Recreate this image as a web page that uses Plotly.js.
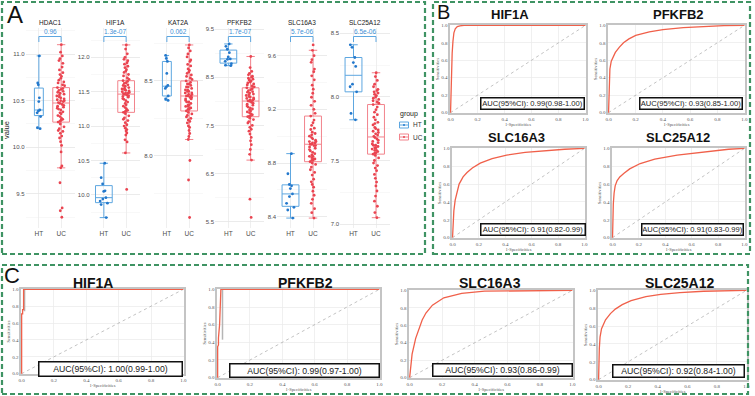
<!DOCTYPE html>
<html>
<head>
<meta charset="utf-8">
<script src="https://cdn.plot.ly/plotly-3.0.1.min.js"></script>
<style>
  html, body { margin: 0; padding: 0; background: #ffffff; }
  #chart { width: 755px; height: 396px; }
</style>
</head>
<body>
<div id="chart"></div>
<script>
// ---------------- Panel A: expression by group ----------------
const genes = ['HDAC1', 'HIF1A', 'KAT2A', 'PFKFB2', 'SLC16A3', 'SLC25A12'];
const groups = ['HT', 'UC'];
const pLabels = ['0.96', '1.3e-07', '0.062', '1.7e-07', '5.7e-06', '6.5e-06'];

const htHDAC1 = [10.98, 10.69, 10.67, 10.53, 10.49, 10.40, 10.39, 10.37, 10.33, 10.21, 10.20];
const ucHDAC1 = [11.10, 11.02, 10.98, 10.95, 10.93, 10.90, 10.86, 10.83, 10.80, 10.78, 10.76, 10.74, 10.72, 10.70, 10.69, 10.67, 10.66,
  10.64, 10.63, 10.62, 10.61, 10.60, 10.59, 10.58, 10.57, 10.56, 10.55, 10.54, 10.53, 10.52, 10.51, 10.50, 10.50, 10.49, 10.48,
  10.47, 10.46, 10.45, 10.44, 10.43, 10.42, 10.41, 10.40, 10.38, 10.37, 10.36, 10.34, 10.33, 10.31, 10.30, 10.29, 10.28, 10.27,
  10.25, 10.22, 10.20, 10.18, 10.17, 10.15, 10.12, 10.10, 10.06, 10.02, 9.95, 9.80, 9.78, 9.62, 9.35, 9.32, 9.25];

const htHIF1A = [10.46, 10.25, 10.16, 10.06, 10.05, 9.96, 9.94, 9.91, 9.88, 9.86, 9.67];
const ucHIF1A = [12.18, 12.12, 12.05, 12.00, 11.97, 11.95, 11.92, 11.90, 11.87, 11.85, 11.82, 11.80, 11.78, 11.75, 11.73, 11.70, 11.68,
  11.66, 11.65, 11.63, 11.62, 11.60, 11.59, 11.58, 11.56, 11.55, 11.54, 11.53, 11.52, 11.51, 11.50, 11.49, 11.48, 11.48, 11.47,
  11.46, 11.45, 11.44, 11.43, 11.42, 11.40, 11.39, 11.37, 11.35, 11.33, 11.31, 11.29, 11.27, 11.25, 11.23, 11.22, 11.21, 11.20,
  11.18, 11.15, 11.12, 11.10, 11.08, 11.05, 11.02, 11.00, 10.97, 10.95, 10.93, 10.90, 10.87, 10.80, 10.77, 10.61, 10.08];

const htKAT2A = [8.67, 8.65, 8.63, 8.55, 8.47, 8.46, 8.45, 8.40, 8.38, 8.37];
const ucKAT2A = [8.74, 8.72, 8.70, 8.68, 8.66, 8.64, 8.63, 8.61, 8.60, 8.58, 8.57, 8.56, 8.55, 8.54, 8.53, 8.52, 8.51,
  8.50, 8.49, 8.48, 8.48, 8.47, 8.46, 8.46, 8.45, 8.44, 8.44, 8.43, 8.43, 8.42, 8.42, 8.41, 8.41, 8.40, 8.40,
  8.40, 8.39, 8.39, 8.38, 8.38, 8.37, 8.36, 8.36, 8.35, 8.34, 8.34, 8.33, 8.33, 8.32, 8.32, 8.31, 8.31, 8.30,
  8.29, 8.28, 8.27, 8.26, 8.25, 8.24, 8.23, 8.22, 8.20, 8.19, 8.17, 8.15, 8.13, 8.11, 7.97, 7.84, 7.59];

const htPFKFB2 = [9.19, 9.14, 9.08, 9.01, 8.92, 8.88, 8.87, 8.83, 8.78, 8.75, 8.74];
const ucPFKFB2 = [8.93, 8.70, 8.62, 8.58, 8.55, 8.52, 8.50, 8.48, 8.46, 8.44, 8.42, 8.40, 8.38, 8.36, 8.34, 8.32, 8.30,
  8.28, 8.26, 8.24, 8.22, 8.20, 8.19, 8.17, 8.15, 8.14, 8.12, 8.10, 8.09, 8.07, 8.06, 8.05, 8.03, 8.02, 8.01,
  8.00, 7.98, 7.96, 7.94, 7.92, 7.90, 7.88, 7.86, 7.84, 7.82, 7.80, 7.78, 7.76, 7.74, 7.72, 7.70, 7.69, 7.68,
  7.65, 7.62, 7.58, 7.55, 7.50, 7.46, 7.42, 7.38, 7.32, 7.25, 7.18, 7.10, 7.00, 6.90, 6.78, 5.97, 5.59];

const htSLC16A3 = [8.87, 8.72, 8.64, 8.63, 8.61, 8.57, 8.55, 8.50, 8.47, 8.45, 8.39];
const ucSLC16A3 = [9.68, 9.64, 9.60, 9.57, 9.55, 9.50, 9.48, 9.45, 9.42, 9.38, 9.35, 9.32, 9.29, 9.26, 9.23, 9.20, 9.17,
  9.15, 9.12, 9.10, 9.08, 9.06, 9.05, 9.03, 9.02, 9.01, 9.00, 8.99, 8.98, 8.97, 8.96, 8.96, 8.95, 8.95, 8.94,
  8.94, 8.93, 8.93, 8.92, 8.91, 8.90, 8.89, 8.88, 8.87, 8.86, 8.85, 8.85, 8.84, 8.83, 8.83, 8.82, 8.82, 8.81,
  8.80, 8.79, 8.77, 8.75, 8.73, 8.71, 8.68, 8.66, 8.64, 8.62, 8.59, 8.56, 8.53, 8.50, 8.46, 8.43, 8.39];

const htSLC25A12 = [8.41, 8.39, 8.31, 8.27, 8.24, 8.10, 8.08, 8.04, 7.87, 7.82];
const ucSLC25A12 = [8.19, 8.16, 8.13, 8.10, 8.08, 8.06, 8.05, 8.04, 8.03, 8.02, 8.01, 8.00, 7.99, 7.98, 7.97, 7.96, 7.95,
  7.94, 7.92, 7.90, 7.88, 7.86, 7.84, 7.82, 7.80, 7.79, 7.78, 7.76, 7.75, 7.74, 7.73, 7.72, 7.71, 7.70, 7.69,
  7.68, 7.67, 7.66, 7.65, 7.64, 7.63, 7.62, 7.62, 7.61, 7.60, 7.60, 7.59, 7.58, 7.58, 7.57, 7.56, 7.56, 7.55,
  7.54, 7.52, 7.50, 7.48, 7.46, 7.44, 7.42, 7.39, 7.36, 7.33, 7.30, 7.26, 7.22, 7.18, 7.14, 7.09, 7.05];

const htValues = [htHDAC1, htHIF1A, htKAT2A, htPFKFB2, htSLC16A3, htSLC25A12];
const ucValues = [ucHDAC1, ucHIF1A, ucKAT2A, ucPFKFB2, ucSLC16A3, ucSLC25A12];

// ---------------- Panels B and C: ROC curves ----------------
const rocGenes = ['HIF1A', 'PFKFB2', 'SLC16A3', 'SLC25A12'];
const diagonal = [0, 1];
const rocTicks = [0, 0.2, 0.4, 0.6, 0.8, 1.0];

// panel B (training set)
const aucB = ['0.99', '0.93', '0.91', '0.91'];
const ciLowB = ['0.98', '0.85', '0.82', '0.83'];
const ciHighB = ['1.00', '1.00', '0.99', '0.99'];
const fprB_HIF1A = [0, 0.003, 0.007, 0.012, 0.018, 0.025, 0.035, 0.05, 0.07, 0.1, 0.3, 0.6, 1];
const tprB_HIF1A = [0, 0.25, 0.5, 0.68, 0.82, 0.915, 0.96, 0.985, 0.995, 1.0, 1.0, 1.0, 1.0];
const fprB_PFKFB2 = [0, 0.002, 0.005, 0.01, 0.02, 0.035, 0.05, 0.08, 0.11, 0.15, 0.2, 0.3, 0.4, 0.55, 0.7, 0.85, 1];
const tprB_PFKFB2 = [0, 0.2, 0.38, 0.5, 0.59, 0.65, 0.69, 0.75, 0.8, 0.845, 0.885, 0.925, 0.95, 0.975, 0.99, 0.997, 1];
const fprB_SLC16A3 = [0, 0.003, 0.01, 0.02, 0.035, 0.05, 0.08, 0.11, 0.15, 0.21, 0.3, 0.41, 0.55, 0.69, 0.85, 1];
const tprB_SLC16A3 = [0, 0.15, 0.3, 0.42, 0.53, 0.6, 0.68, 0.73, 0.78, 0.835, 0.885, 0.925, 0.955, 0.975, 0.99, 1];
const fprB_SLC25A12 = [0, 0.002, 0.006, 0.012, 0.02, 0.035, 0.055, 0.087, 0.13, 0.21, 0.32, 0.49, 0.6, 0.74, 0.88, 1];
const tprB_SLC25A12 = [0, 0.2, 0.38, 0.5, 0.58, 0.64, 0.68, 0.72, 0.77, 0.83, 0.88, 0.925, 0.945, 0.97, 0.99, 1];

// panel C (validation set)
const aucC = ['1.00', '0.99', '0.93', '0.92'];
const ciLowC = ['0.99', '0.97', '0.86', '0.84'];
const ciHighC = ['1.00', '1.00', '0.99', '1.00'];
const fprC_HIF1A = [0, 0, 0.006, 0.006, 0.012, 0.012, 1];
const tprC_HIF1A = [0, 0.71, 0.71, 0.76, 0.76, 1, 1];
const fprC_PFKFB2 = [0, 0, 0.005, 0.005, 0.012, 0.02, 1];
const tprC_PFKFB2 = [0, 0.35, 0.37, 0.45, 0.6, 1, 1];
const fprC_SLC16A3 = [0, 0.005, 0.015, 0.037, 0.077, 0.1, 0.14, 0.21, 0.32, 0.46, 0.7, 1];
const tprC_SLC16A3 = [0, 0.12, 0.27, 0.45, 0.66, 0.74, 0.83, 0.915, 0.965, 0.99, 0.998, 1];
const fprC_SLC25A12 = [0, 0.002, 0.005, 0.01, 0.02, 0.047, 0.08, 0.113, 0.16, 0.22, 0.32, 0.42, 0.55, 0.71, 0.85, 1];
const tprC_SLC25A12 = [0, 0.2, 0.35, 0.48, 0.57, 0.67, 0.74, 0.79, 0.84, 0.885, 0.93, 0.955, 0.975, 0.99, 0.997, 1];
// confidence band edges of the two step curves
const ciFprC_HIF1A = [0.018, 0.018];
const ciTprC_HIF1A = [0.74, 1];
const ciFprC_PFKFB2 = [0.03, 0.03];
const ciTprC_PFKFB2 = [0.43, 1];

const rocB = [[fprB_HIF1A, tprB_HIF1A], [fprB_PFKFB2, tprB_PFKFB2], [fprB_SLC16A3, tprB_SLC16A3], [fprB_SLC25A12, tprB_SLC25A12]];
const rocC = [[fprC_HIF1A, tprC_HIF1A], [fprC_PFKFB2, tprC_PFKFB2], [fprC_SLC16A3, tprC_SLC16A3], [fprC_SLC25A12, tprC_SLC25A12]];
const ciC = [[ciFprC_HIF1A, ciTprC_HIF1A], [ciFprC_PFKFB2, ciTprC_PFKFB2], null, null];

// ---------------- geometry (pixels in a 755 x 396 canvas) ----------------
const W = 755, H = 396;
const fx = v => v / W;
const fy = v => 1 - v / H;

const SANS = 'Arial, Liberation Sans, sans-serif';
const SERIF = 'Liberation Serif, Times New Roman, serif';
const HT_PT = '#2378cc', HT_LINE = '#5ea7e0';
const UC_PT = '#ea4450', UC_LINE = '#f2838c';
const ROC_RED = '#f0604a';
const FRAME_GREEN = '#3f9363';

const aColumns = [[25.5, 74.5], [90.5, 139.5], [153.5, 202.5], [215, 264], [277, 326.5], [340, 389.5]];
const aTop = 28, aBottom = 228;
const aRanges = [[9.135, 11.279], [9.519, 12.426], [7.52, 8.853], [5.371, 9.521], [8.316, 9.806], [6.969, 8.542]];
const aTick0 = [9.5, 10, 8, 5.5, 8.4, 7];
const aDtick = [0.5, 0.5, 0.5, 1, 0.4, 0.5];
const htBoxWidth = [0.4, 0.75, 0.4, 0.75, 0.75, 0.75];

const bBoxes = [[450, 586, 25, 113], [608, 745, 25, 113], [452, 585, 148, 238], [612, 745, 148, 238]];
const bTitles = [[510, 14], [678, 14], [516, 137], [678, 137]];
const bAuc = [[480, 585, 97, 110], [639, 743, 97, 110], [480, 586, 223, 236], [641, 744, 223, 236]];
const cBoxes = [[21, 184, 289, 374], [217, 380, 289, 378], [409, 573, 290, 378], [598, 747, 290, 380]];
const cTitles = [[93, 283], [305, 283], [490, 283], [679, 283]];
const cAuc = [[38, 183, 361, 377], [229, 380, 363, 378], [432, 573, 363, 377], [612, 745, 364, 378]];

const data = [];
const layout = {
  width: W, height: H,
  margin: { l: 0, r: 0, t: 0, b: 0, pad: 0 },
  paper_bgcolor: '#ffffff', plot_bgcolor: '#ffffff',
  showlegend: false,
  shapes: [], annotations: []
};

const ax = n => (n === 1 ? '' : String(n));

// ---- panel A subplots ----
genes.forEach((g, i) => {
  const n = i + 1, s = ax(n);
  [[htValues[i], 'HT', HT_PT, HT_LINE, htBoxWidth[i]], [ucValues[i], 'UC', UC_PT, UC_LINE, 0.75]].forEach(([vals, grp, pc, lc, w]) => {
    data.push({
      type: 'box', y: vals, name: grp, legendgroup: grp,
      xaxis: 'x' + s, yaxis: 'y' + s,
      boxpoints: 'all', jitter: 0.55, pointpos: 0, width: w,
      marker: { size: 2.8, color: pc, opacity: 1 },
      line: { color: lc, width: 1 },
      fillcolor: 'rgba(255,255,255,0)',
      hoverinfo: 'skip'
    });
  });
  layout['xaxis' + s] = {
    domain: [fx(aColumns[i][0]), fx(aColumns[i][1])], anchor: 'y' + s,
    type: 'category', categoryorder: 'array', categoryarray: groups,
    range: [-0.6, 1.6], showgrid: true, gridcolor: '#ebebeb', gridwidth: 0.8,
    zeroline: false, showline: false, ticks: '',
    tickfont: { family: SANS, size: 6.5, color: '#4d4d4d' }
  };
  layout['yaxis' + s] = {
    domain: [fy(aBottom), fy(aTop)], anchor: 'x' + s,
    range: aRanges[i], tick0: aTick0[i], dtick: aDtick[i], tickformat: '.1f',
    showgrid: true, gridcolor: '#e6e6e6', gridwidth: 0.8,
    minor: { dtick: aDtick[i] / 2, showgrid: true, gridcolor: '#f4f4f4', gridwidth: 0.6 },
    zeroline: false, showline: false, ticks: '',
    tickfont: { family: SANS, size: 6, color: '#4d4d4d' }
  };
  const cx = fx((aColumns[i][0] + aColumns[i][1]) / 2);
  layout.annotations.push({
    text: g, xref: 'paper', yref: 'paper', x: cx, y: fy(22), showarrow: false,
    font: { family: SANS, size: 6.5, color: '#222' }, xanchor: 'center', yanchor: 'middle'
  });
  layout.annotations.push({
    text: pLabels[i], xref: 'paper', yref: 'paper', x: cx, y: fy(31), showarrow: false,
    font: { family: SANS, size: 6.5, color: '#3d8fd6' }, xanchor: 'center', yanchor: 'middle'
  });
  const bl = { color: HT_LINE, width: 1 };
  layout.shapes.push({ type: 'line', xref: 'x' + s, yref: 'paper', x0: 'HT', x1: 'UC', y0: fy(36.5), y1: fy(36.5), line: bl });
  layout.shapes.push({ type: 'line', xref: 'x' + s, yref: 'paper', x0: 'HT', x1: 'HT', y0: fy(36.5), y1: fy(42), line: bl });
  layout.shapes.push({ type: 'line', xref: 'x' + s, yref: 'paper', x0: 'UC', x1: 'UC', y0: fy(36.5), y1: fy(42), line: bl });
});

layout.annotations.push({
  text: 'value', xref: 'paper', yref: 'paper', x: fx(6), y: fy(130), textangle: -90, showarrow: false,
  font: { family: SANS, size: 7.5, color: '#222' }, xanchor: 'center', yanchor: 'middle'
});

// ---- group key for panel A ----
layout.annotations.push({
  text: 'group', xref: 'paper', yref: 'paper', x: fx(398), y: fy(114), showarrow: false,
  xanchor: 'left', yanchor: 'middle', font: { family: SANS, size: 7, color: '#222' }
});
[['HT', HT_LINE, HT_PT, 125], ['UC', UC_LINE, UC_PT, 137]].forEach(([lab, lc, pc, yc]) => {
  const x0 = 399.5, x1 = 408.5;
  layout.shapes.push({ type: 'rect', xref: 'paper', yref: 'paper', x0: fx(x0), x1: fx(x1), y0: fy(yc + 3), y1: fy(yc - 3),
    line: { color: lc, width: 1 }, fillcolor: 'rgba(0,0,0,0)' });
  layout.shapes.push({ type: 'line', xref: 'paper', yref: 'paper', x0: fx(x0), x1: fx(x1), y0: fy(yc), y1: fy(yc),
    line: { color: lc, width: 1 } });
  layout.shapes.push({ type: 'circle', xref: 'paper', yref: 'paper', x0: fx(403), x1: fx(405), y0: fy(yc + 1), y1: fy(yc - 1),
    line: { width: 0 }, fillcolor: pc });
  layout.annotations.push({
    text: lab, xref: 'paper', yref: 'paper', x: fx(411), y: fy(yc), showarrow: false,
    xanchor: 'left', yanchor: 'middle', font: { family: SANS, size: 6.5, color: '#333' }
  });
});

// ---- ROC subplots (B and C) ----
function rocPanel(n, box, curve, ci, title, titlePos, titleSize, aucText, aucBox, aucSize) {
  const s = ax(n);
  if (ci) {
    data.push({ type: 'scatter', mode: 'lines', x: ci[0], y: ci[1], xaxis: 'x' + s, yaxis: 'y' + s,
      line: { color: '#b5b5b5', width: 1.5 }, showlegend: false, hoverinfo: 'skip' });
  }
  data.push({ type: 'scatter', mode: 'lines', x: diagonal, y: diagonal, xaxis: 'x' + s, yaxis: 'y' + s,
    line: { color: '#9a9a9a', width: 0.6, dash: 'dot' }, showlegend: false, hoverinfo: 'skip' });
  data.push({ type: 'scatter', mode: 'lines', x: curve[0], y: curve[1], xaxis: 'x' + s, yaxis: 'y' + s,
    line: { color: ROC_RED, width: 1.3, shape: 'linear' }, showlegend: false, hoverinfo: 'skip', cliponaxis: false });
  const common = {
    range: [-0.004, 1.004], tickvals: rocTicks, tickformat: '.1f',
    showgrid: true, gridcolor: '#e9e9e9', gridwidth: 0.7, zeroline: false,
    showline: true, mirror: true, linecolor: '#c4c4c4', linewidth: 1.6, ticks: '',
    tickfont: { family: SERIF, size: 5, color: '#555' }
  };
  layout['xaxis' + s] = Object.assign({}, common, {
    domain: [fx(box[0]), fx(box[1])], anchor: 'y' + s,
    title: { text: '1-Specificities', font: { family: SERIF, size: 4.5, color: '#555' }, standoff: 1 }
  });
  layout['yaxis' + s] = Object.assign({}, common, {
    domain: [fy(box[3]), fy(box[2])], anchor: 'x' + s,
    title: { text: 'Sensitivities', font: { family: SERIF, size: 4.5, color: '#555' }, standoff: 1 }
  });
  layout.annotations.push({
    text: '<b>' + title + '</b>', xref: 'paper', yref: 'paper', x: fx(titlePos[0]), y: fy(titlePos[1]),
    showarrow: false, xanchor: 'center', yanchor: 'middle',
    font: { family: SANS, size: titleSize, color: '#111' }
  });
  layout.annotations.push({
    text: aucText, xref: 'paper', yref: 'paper',
    x: fx((aucBox[0] + aucBox[1]) / 2), y: fy((aucBox[2] + aucBox[3]) / 2),
    xanchor: 'center', yanchor: 'middle', showarrow: false,
    width: aucBox[1] - aucBox[0] - 4, height: aucBox[3] - aucBox[2] - 4,
    bgcolor: '#ffffff', bordercolor: '#111', borderwidth: 1.5, borderpad: 0.5,
    font: { family: SANS, size: aucSize, color: '#222' }
  });
}

rocGenes.forEach((g, i) => {
  rocPanel(7 + i, bBoxes[i], rocB[i], null, g, bTitles[i], 13,
    'AUC(95%CI): ' + aucB[i] + '(' + ciLowB[i] + '-' + ciHighB[i] + ')', bAuc[i], 7.6);
});
rocGenes.forEach((g, i) => {
  rocPanel(11 + i, cBoxes[i], rocC[i], ciC[i], g, cTitles[i], 14,
    'AUC(95%CI): ' + aucC[i] + '(' + ciLowC[i] + '-' + ciHighC[i] + ')', cAuc[i], 8.7);
});

// ---- dashed panel frames and panel letters ----
const frames = [[2, 425, 2, 254], [433, 750, 2, 254], [2, 748, 265, 394]];
frames.forEach(f => {
  layout.shapes.push({
    type: 'rect', xref: 'paper', yref: 'paper', x0: fx(f[0]), x1: fx(f[1]), y0: fy(f[3]), y1: fy(f[2]),
    line: { color: FRAME_GREEN, width: 2.2, dash: '5px,3px' }, fillcolor: 'rgba(0,0,0,0)', layer: 'above'
  });
});
[['A', 15, 14, 24], ['B', 444, 11.5, 20], ['C', 12, 275, 22]].forEach(([t, x, y, sz]) => {
  layout.annotations.push({
    text: t, xref: 'paper', yref: 'paper', x: fx(x), y: fy(y), showarrow: false,
    xanchor: 'center', yanchor: 'middle', font: { family: SANS, size: sz, color: '#111' }
  });
});

Plotly.newPlot('chart', data, layout, { displayModeBar: false, staticPlot: true });
</script>
</body>
</html>
